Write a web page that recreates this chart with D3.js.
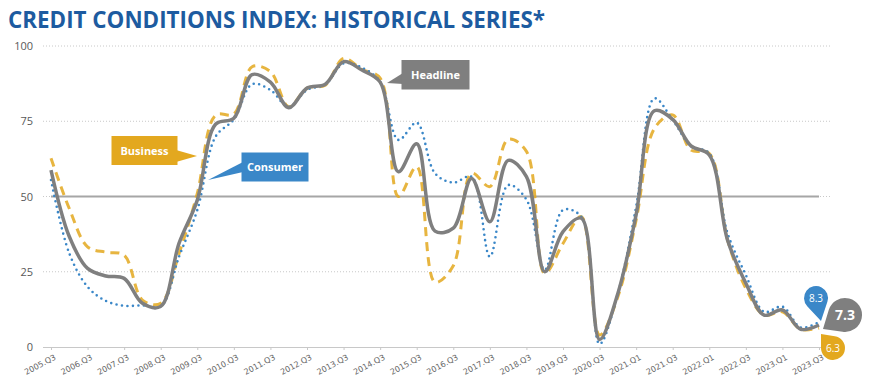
<!DOCTYPE html>
<html>
<head>
<meta charset="utf-8">
<script src="https://cdn.jsdelivr.net/npm/d3@7"></script>
<style>
  html, body { margin: 0; padding: 0; background: #ffffff; }
  svg { display: block; }
</style>
</head>
<body>
<svg id="chart" width="869" height="385"></svg>
<script>
// ---------------- DATA ----------------
const tickLabels = ["2005.Q3","2006.Q3","2007.Q3","2008.Q3","2009.Q3","2010.Q3","2011.Q3",
  "2012.Q3","2013.Q3","2014.Q3","2015.Q3","2016.Q3","2017.Q3","2018.Q3","2019.Q3","2020.Q3",
  "2021.Q1","2021.Q3","2022.Q1","2022.Q3","2023.Q1","2023.Q3"];

const headline = [58.8, 36.7, 26.1, 23.6, 22.8, 14.5, 13.5, 34.4, 48.8, 74.0, 76.0,
  90.5, 88.0, 79.5, 86.0, 87.3, 94.8, 92.0, 88.0, 58.2, 67.5, 38.5, 39.5, 56.0, 41.6,
  62.0, 56.6, 25.0, 38.3, 42.8, 2.5, 17.8, 44.0, 78.5, 75.6, 66.8, 63.8, 35.5, 21.2,
  10.6, 12.3, 5.9, 7.3];

const business = [62.7, 46.0, 33.3, 31.5, 30.5, 15.6, 14.5, 31.0, 51.0, 77.0, 77.4,
  93.1, 91.5, 79.8, 86.0, 87.0, 95.9, 92.2, 89.3, 50.0, 59.9, 21.5, 27.0, 57.7, 53.3,
  69.0, 65.0, 24.5, 34.4, 43.3, 4.0, 16.7, 42.2, 72.6, 77.1, 65.4, 64.3, 35.5, 19.5,
  10.6, 11.7, 5.9, 6.3];

const consumer = [55.5, 31.1, 20.0, 15.3, 13.7, 13.8, 13.4, 30.0, 45.5, 69.9, 75.6,
  87.3, 85.4, 79.8, 85.4, 87.3, 94.2, 92.8, 88.1, 68.8, 74.5, 57.7, 54.6, 56.6, 30.0,
  53.8, 49.0, 25.6, 45.5, 43.3, 1.0, 17.8, 46.6, 82.6, 75.4, 66.8, 64.3, 37.8, 23.9,
  11.7, 13.4, 6.5, 8.3];

const referenceLevel = 50;
const yTicks = [0, 25, 50, 75, 100];
const seriesNames = ["Business", "Consumer", "Headline"];

// ---------------- LAYOUT ----------------
const svg = d3.select("#chart");
const n = headline.length;
const x = d3.scaleLinear().domain([0, n - 1]).range([51, 819]);
const y = d3.scaleLinear().domain([0, 100]).range([347, 46]);
const colors = { Business: "#e3a81f", Consumer: "#3a87c8", Headline: "#7f7f7f", title: "#1d5ba0", axis: "#595959" };

// Title
svg.append("text")
  .attr("x", 8).attr("y", 28)
  .attr("font-family", "'Open Sans', 'DejaVu Sans', sans-serif")
  .attr("font-weight", 700).attr("font-size", 23)
  .attr("fill", colors.title)
  .attr("textLength", 537).attr("lengthAdjust", "spacingAndGlyphs")
  .text("CREDIT CONDITIONS INDEX: HISTORICAL SERIES*");

// Gridlines
const grid = svg.append("g");
grid.selectAll("line").data(yTicks.filter(t => t !== 0)).join("line")
  .attr("x1", 43).attr("x2", 830)
  .attr("y1", d => y(d)).attr("y2", d => y(d))
  .attr("stroke", "#c8c8c8").attr("stroke-width", 1)
  .attr("stroke-dasharray", "1,2");

// Y axis (labels only)
const yAxis = d3.axisLeft(y).tickValues(yTicks).tickSize(0).tickPadding(0);
const yg = svg.append("g").attr("transform", "translate(33,0)").call(yAxis);
yg.select(".domain").remove();
yg.selectAll("text")
  .attr("font-family", "'Open Sans', 'DejaVu Sans', sans-serif")
  .attr("font-size", 11).attr("fill", colors.axis);

// X axis
const tickIdx = tickLabels.map((_, i) => i * 2);
const xAxis = d3.axisBottom(x).tickValues(tickIdx)
  .tickFormat((d, i) => tickLabels[i]).tickSize(3).tickPadding(0);
const xg = svg.append("g").attr("transform", `translate(0,${y(0)})`).call(xAxis);
xg.select(".domain").attr("d", `M43,0.5H830`).attr("stroke", "#c8c8c8");
xg.selectAll(".tick line").attr("stroke", "#c8c8c8");
xg.selectAll(".tick text")
  .attr("font-family", "'DejaVu Sans', sans-serif")
  .attr("font-size", 8).attr("fill", "#666666")
  .attr("text-anchor", "end")
  .attr("dy", null).attr("y", 0)
  .attr("transform", "translate(5,12) rotate(-28)");

// Reference line at 50
svg.append("line")
  .attr("x1", x(0)).attr("x2", x(n - 1))
  .attr("y1", y(referenceLevel)).attr("y2", y(referenceLevel))
  .attr("stroke", "#a6a6a6").attr("stroke-width", 2);

// Series lines
const line = d3.line().x((d, i) => x(i)).y(d => y(d)).curve(d3.curveCatmullRom.alpha(0.5));
svg.append("path").datum(business).attr("d", line)
  .attr("fill", "none").attr("stroke", colors.Business).attr("stroke-width", 3)
  .attr("stroke-dasharray", "9,6").attr("opacity", 0.85);
svg.append("path").datum(consumer).attr("d", line)
  .attr("fill", "none").attr("stroke", colors.Consumer).attr("stroke-width", 2.6)
  .attr("stroke-dasharray", "0,5.5").attr("stroke-linecap", "round");
svg.append("path").datum(headline).attr("d", line)
  .attr("fill", "none").attr("stroke", colors.Headline).attr("stroke-width", 3.5);

// Callouts
function callout(label, color, box, tri) {
  const g = svg.append("g");
  g.append("path")
    .attr("d", `M${tri[0][0]},${tri[0][1]}L${tri[1][0]},${tri[1][1]}L${tri[2][0]},${tri[2][1]}Z`)
    .attr("fill", color);
  g.append("rect").attr("x", box[0]).attr("y", box[1])
    .attr("width", box[2]).attr("height", box[3]).attr("fill", color);
  g.append("text")
    .attr("x", box[0] + box[2] / 2).attr("y", box[1] + box[3] / 2 + 4)
    .attr("text-anchor", "middle")
    .attr("font-family", "'Open Sans', 'DejaVu Sans', sans-serif")
    .attr("font-weight", 700).attr("font-size", 11)
    .attr("fill", "#ffffff").text(label);
}
callout(seriesNames[0], colors.Business, [111.5, 136, 66, 29], [[176, 150], [197, 156], [176, 162]]);
callout(seriesNames[1], colors.Consumer, [241.5, 152.5, 67, 29], [[243, 162], [208, 180], [243, 172]]);
callout(seriesNames[2], colors.Headline, [401.5, 60, 68, 29.5], [[403, 73], [387, 83], [403, 84]]);

// End-value pins
function pin(cx, cy, r, tx, ty, color, txt, fs) {
  const dx = tx - cx, dy = ty - cy;
  const d = Math.hypot(dx, dy);
  const phi = Math.atan2(dy, dx);
  const a = Math.acos(r / d);
  const p1 = [cx + r * Math.cos(phi + a), cy + r * Math.sin(phi + a)];
  const p2 = [cx + r * Math.cos(phi - a), cy + r * Math.sin(phi - a)];
  const g = svg.append("g");
  g.append("path")
    .attr("d", `M${tx},${ty}L${p1[0]},${p1[1]}A${r},${r} 0 1 1 ${p2[0]},${p2[1]}Z`)
    .attr("fill", color);
  g.append("text").attr("x", cx).attr("y", cy + fs * 0.36)
    .attr("text-anchor", "middle")
    .attr("font-family", "'Open Sans', 'DejaVu Sans', sans-serif")
    .attr("font-weight", fs > 12 ? 700 : 400).attr("font-size", fs)
    .attr("fill", "#ffffff").text(txt);
}
const fmt = d3.format(".1f");
pin(816, 298, 12, 821, 321, colors.Consumer, fmt(consumer[n - 1]), 10);
pin(845, 315, 17, 823, 329, colors.Headline, fmt(headline[n - 1]), 14);
pin(833, 348, 12, 821, 334, colors.Business, fmt(business[n - 1]), 10);
</script>
</body>
</html>
